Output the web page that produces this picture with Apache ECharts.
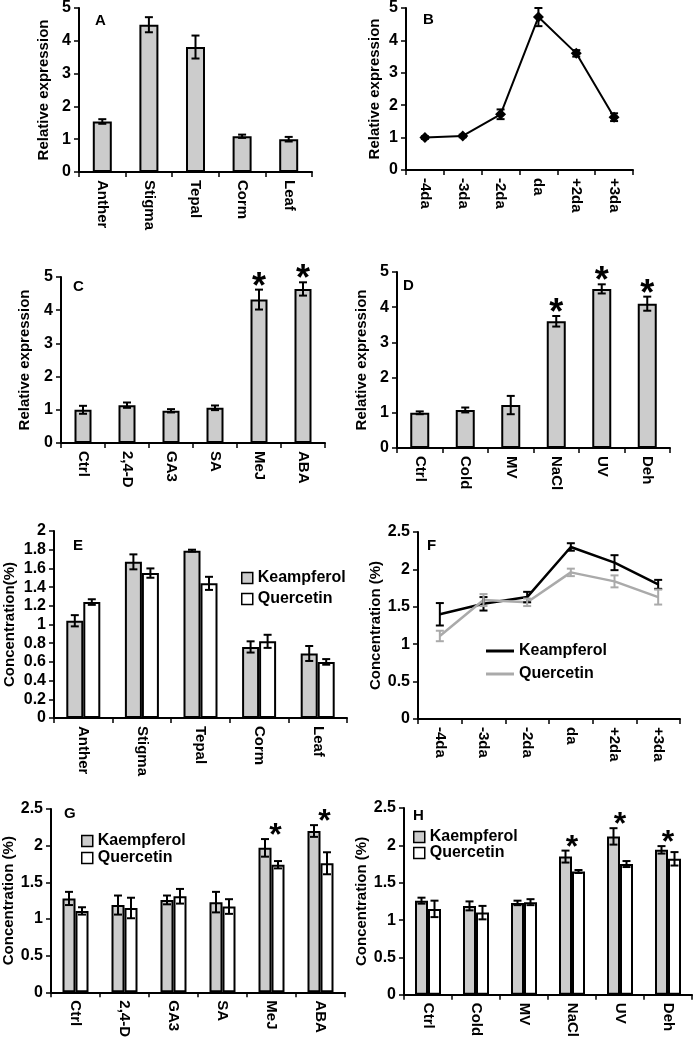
<!DOCTYPE html>
<html>
<head>
<meta charset="utf-8">
<script src="https://cdn.jsdelivr.net/npm/echarts@6/dist/echarts.min.js"></script>
<style>
html,body{margin:0;padding:0;background:#fff;}
#main{width:693px;height:1040px;}
</style>
</head>
<body>
<div id="main"></div>
<script>
// ---------- data ----------
const tissues = ['Anther', 'Stigma', 'Tepal', 'Corm', 'Leaf'];
const stages = ['-4da', '-3da', '-2da', 'da', '+2da', '+3da'];
const hormones = ['Ctrl', '2,4-D', 'GA3', 'SA', 'MeJ', 'ABA'];
const stresses = ['Ctrl', 'Cold', 'MV', 'NaCl', 'UV', 'Deh'];

// A: relative expression in tissues
const aExpr = [1.54, 4.49, 3.81, 1.09, 1.00];
const aErr  = [0.07, 0.23, 0.35, 0.05, 0.07];
// B: relative expression at stages
const bExpr = [1.00, 1.05, 1.72, 4.72, 3.60, 1.63];
const bErr  = [0.04, 0.04, 0.15, 0.28, 0.10, 0.12];
// C: hormones
const cExpr = [1.00, 1.14, 0.97, 1.06, 4.32, 4.64];
const cErr  = [0.12, 0.08, 0.05, 0.07, 0.30, 0.20];
const cSig  = [0, 0, 0, 0, 1, 1];
// D: stresses
const dExpr = [1.00, 1.08, 1.22, 3.60, 4.52, 4.10];
const dErr  = [0.04, 0.07, 0.26, 0.15, 0.13, 0.20];
const dSig  = [0, 0, 0, 1, 1, 1];
// E: concentration in tissues
const eKaem    = [1.04, 1.67, 1.79, 0.76, 0.69];
const eKaemErr = [0.06, 0.08, 0.01, 0.06, 0.08];
const eQuer    = [1.24, 1.55, 1.44, 0.82, 0.60];
const eQuerErr = [0.03, 0.05, 0.07, 0.07, 0.03];
// F: concentration at stages
const fKaem    = [1.40, 1.54, 1.63, 2.30, 2.09, 1.80];
const fKaemErr = [0.15, 0.09, 0.07, 0.05, 0.10, 0.06];
const fQuer    = [1.11, 1.59, 1.56, 1.96, 1.84, 1.63];
const fQuerErr = [0.07, 0.08, 0.05, 0.05, 0.08, 0.10];
// G: concentration, hormones
const gKaem    = [1.28, 1.19, 1.26, 1.23, 1.97, 2.20];
const gKaemErr = [0.09, 0.13, 0.06, 0.14, 0.12, 0.08];
const gQuer    = [1.11, 1.15, 1.31, 1.17, 1.74, 1.76];
const gQuerErr = [0.05, 0.14, 0.10, 0.10, 0.05, 0.15];
const gSig     = [0, 0, 0, 0, 1, 1];
// H: concentration, stresses
const hKaem    = [1.26, 1.19, 1.23, 1.85, 2.12, 1.94];
const hKaemErr = [0.04, 0.06, 0.03, 0.08, 0.11, 0.05];
const hQuer    = [1.15, 1.10, 1.24, 1.65, 1.75, 1.82];
const hQuerErr = [0.11, 0.09, 0.04, 0.02, 0.04, 0.09];
const hSig     = [0, 0, 0, 1, 1, 1];

// ---------- helpers ----------
const FONT = 'Liberation Sans, Arial, Helvetica, sans-serif';
const GREY = '#cccccc';
const LGREY = '#aaaaaa';

const grids = [
  {left: 79,  top: 7,   width: 233, height: 165},  // A
  {left: 406, top: 7,   width: 227, height: 163},  // B
  {left: 61,  top: 277, width: 264, height: 166},  // C
  {left: 397, top: 272, width: 273, height: 176},  // D
  {left: 54,  top: 531, width: 293, height: 187},  // E
  {left: 418, top: 532, width: 262, height: 187},  // F
  {left: 51,  top: 809, width: 294, height: 190},  // G
  {left: 404, top: 808, width: 288, height: 191}   // H
];

function xAxisFor(gi, cats) {
  return {
    type: 'category', gridIndex: gi, data: cats, boundaryGap: true,
    axisLine: {show: true, lineStyle: {color: '#000', width: 2}},
    axisTick: {show: true, length: 5, lineStyle: {color: '#000', width: 1.5}, alignWithLabel: false},
    axisLabel: {rotate: -90, interval: 0, margin: 8, color: '#000', fontFamily: FONT, fontWeight: 'bold', fontSize: 15},
    splitLine: {show: false}
  };
}
function yAxisFor(gi, max, interval, name, nameGap) {
  return {
    type: 'value', gridIndex: gi, min: 0, max: max, interval: interval,
    name: name, nameLocation: 'middle', nameGap: nameGap,
    nameTextStyle: {color: '#000', fontFamily: FONT, fontWeight: 'bold', fontSize: 15},
    axisLine: {show: true, lineStyle: {color: '#000', width: 2}},
    axisTick: {show: true, length: 5, lineStyle: {color: '#000', width: 1.5}},
    axisLabel: {color: '#000', fontFamily: FONT, fontWeight: 'bold', fontSize: 16, margin: 8},
    splitLine: {show: false}
  };
}
function errSeries(gi, vals, errs, offset, color, cap) {
  return {
    type: 'custom', xAxisIndex: gi, yAxisIndex: gi, z: 10, clip: false,
    data: vals.map((v, i) => [i, v, errs[i]]),
    encode: {x: 0, y: 1},
    renderItem: function (params, api) {
      const x = api.value(0), v = api.value(1), e = api.value(2);
      const hi = api.coord([x, v + e]);
      const lo = api.coord([x, v - e]);
      const cx = hi[0] + offset;
      const st = {stroke: color, lineWidth: 2};
      return {type: 'group', children: [
        {type: 'line', shape: {x1: cx, y1: hi[1], x2: cx, y2: lo[1]}, style: st},
        {type: 'line', shape: {x1: cx - cap, y1: hi[1], x2: cx + cap, y2: hi[1]}, style: st},
        {type: 'line', shape: {x1: cx - cap, y1: lo[1], x2: cx + cap, y2: lo[1]}, style: st}
      ]};
    }
  };
}
function starSeries(gi, sig, tops, fs, dx) {
  const data = [];
  sig.forEach((s, i) => { if (s) data.push([i, tops[i]]); });
  return {
    type: 'custom', xAxisIndex: gi, yAxisIndex: gi, z: 11, clip: false,
    data: data, encode: {x: 0, y: 1},
    renderItem: function (params, api) {
      const p = api.coord([api.value(0), api.value(1)]);
      return {type: 'text', x: p[0] + dx, y: p[1] - 9 + fs * 0.2,
        style: {text: '*', fill: '#000', font: 'bold ' + fs + 'px ' + FONT, align: 'center', verticalAlign: 'middle'}};
    }
  };
}
function barSeries(gi, name, vals, color, width) {
  return {
    type: 'bar', name: name, xAxisIndex: gi, yAxisIndex: gi, data: vals,
    barWidth: width, barGap: '0%',
    itemStyle: {color: color, borderColor: '#000', borderWidth: 2}
  };
}
function maxTop(a, ae, b, be) {
  return a.map((v, i) => Math.max(v + ae[i], b ? b[i] + be[i] : -Infinity));
}

const xAxes = [
  xAxisFor(0, tissues), xAxisFor(1, stages), xAxisFor(2, hormones), xAxisFor(3, stresses),
  xAxisFor(4, tissues), xAxisFor(5, stages), xAxisFor(6, hormones), xAxisFor(7, stresses)
];
const yAxes = [
  yAxisFor(0, 5, 1, 'Relative expression', 28),
  yAxisFor(1, 5, 1, 'Relative expression', 24),
  yAxisFor(2, 5, 1, 'Relative expression', 29),
  yAxisFor(3, 5, 1, 'Relative expression', 28),
  yAxisFor(4, 2, 0.2, 'Concentration(%)', 37),
  yAxisFor(5, 2.5, 0.5, 'Concentration (%)', 35),
  yAxisFor(6, 2.5, 0.5, 'Concentration (%)', 27),
  yAxisFor(7, 2.5, 0.5, 'Concentration (%)', 27)
];

const series = [
  // A
  barSeries(0, 'A', aExpr, GREY, 19),
  errSeries(0, aExpr, aErr, 0, '#000', 4),
  // B
  {type: 'line', name: 'B', xAxisIndex: 1, yAxisIndex: 1, data: bExpr,
   symbol: 'diamond', symbolSize: 11, itemStyle: {color: '#000'}, lineStyle: {color: '#000', width: 2}},
  errSeries(1, bExpr, bErr, 0, '#000', 4),
  // C
  barSeries(2, 'C', cExpr, GREY, 17),
  errSeries(2, cExpr, cErr, 0, '#000', 4),
  starSeries(2, cSig, maxTop(cExpr, cErr), 36, 0),
  // D
  barSeries(3, 'D', dExpr, GREY, 19),
  errSeries(3, dExpr, dErr, 0, '#000', 4),
  starSeries(3, dSig, maxTop(dExpr, dErr), 36, 0),
  // E
  barSeries(4, 'Keampferol|E', eKaem, GREY, 17),
  barSeries(4, 'Quercetin|E', eQuer, '#ffffff', 17),
  errSeries(4, eKaem, eKaemErr, -8.5, '#000', 4),
  errSeries(4, eQuer, eQuerErr, 8.5, '#000', 4),
  // F
  {type: 'line', name: 'Keampferol|F', xAxisIndex: 5, yAxisIndex: 5, data: fKaem,
   symbol: 'none', itemStyle: {color: '#000'}, lineStyle: {color: '#000', width: 2.5}},
  {type: 'line', name: 'Quercetin|F', xAxisIndex: 5, yAxisIndex: 5, data: fQuer,
   symbol: 'none', itemStyle: {color: LGREY}, lineStyle: {color: LGREY, width: 2.5}},
  errSeries(5, fKaem, fKaemErr, 0, '#000', 4),
  errSeries(5, fQuer, fQuerErr, 0, LGREY, 4),
  // G
  barSeries(6, 'Kaempferol|G', gKaem, GREY, 13),
  barSeries(6, 'Quercetin|G', gQuer, '#ffffff', 13),
  errSeries(6, gKaem, gKaemErr, -6.5, '#000', 4),
  errSeries(6, gQuer, gQuerErr, 6.5, '#000', 4),
  starSeries(6, gSig, maxTop(gKaem, gKaemErr, gQuer, gQuerErr), 32, 4),
  // H
  barSeries(7, 'Kaempferol|H', hKaem, GREY, 13),
  barSeries(7, 'Quercetin|H', hQuer, '#ffffff', 13),
  errSeries(7, hKaem, hKaemErr, -6.5, '#000', 4),
  errSeries(7, hQuer, hQuerErr, 6.5, '#000', 4),
  starSeries(7, hSig, maxTop(hKaem, hKaemErr, hQuer, hQuerErr), 32, 0)
];

const legendText = {color: '#000', fontFamily: FONT, fontWeight: 'bold', fontSize: 16};
const fmt = n => n.split('|')[0];
function boxItem(name, color) {
  return {name: name, icon: 'rect', itemStyle: {color: color, borderColor: '#000', borderWidth: 1.5}};
}
const legends = [
  {left: 241, top: 570, orient: 'vertical', itemWidth: 11, itemHeight: 11, itemGap: 5, padding: 0, formatter: fmt,
   textStyle: legendText, selectedMode: false,
   data: [boxItem('Keampferol|E', GREY), boxItem('Quercetin|E', '#fff')]},
  {left: 486, top: 643, orient: 'vertical', itemWidth: 28, itemHeight: 3, itemGap: 7, padding: 0, formatter: fmt,
   textStyle: legendText, selectedMode: false,
   data: [{name: 'Keampferol|F', icon: 'rect'}, {name: 'Quercetin|F', icon: 'rect'}]},
  {left: 81, top: 833, orient: 'vertical', itemWidth: 11, itemHeight: 11, itemGap: 1, padding: 0, formatter: fmt,
   textStyle: legendText, selectedMode: false,
   data: [boxItem('Kaempferol|G', GREY), boxItem('Quercetin|G', '#fff')]},
  {left: 413, top: 829, orient: 'vertical', itemWidth: 11, itemHeight: 11, itemGap: 0, padding: 0, formatter: fmt,
   textStyle: legendText, selectedMode: false,
   data: [boxItem('Kaempferol|H', GREY), boxItem('Quercetin|H', '#fff')]}
];

function letter(t, x, y) {
  return {type: 'text', left: x, top: y, style: {text: t, fill: '#000', font: 'bold 15px ' + FONT}};
}
const letters = [
  letter('A', 95, 13), letter('B', 423, 12), letter('C', 73, 279), letter('D', 403, 278),
  letter('E', 73, 538), letter('F', 427, 538), letter('G', 64, 806), letter('H', 413, 808)
];

const chart = echarts.init(document.getElementById('main'), null, {renderer: 'canvas'});
chart.setOption({
  animation: false,
  backgroundColor: '#fff',
  grid: grids,
  xAxis: xAxes,
  yAxis: yAxes,
  legend: legends,
  graphic: letters,
  series: series
});
</script>
</body>
</html>
